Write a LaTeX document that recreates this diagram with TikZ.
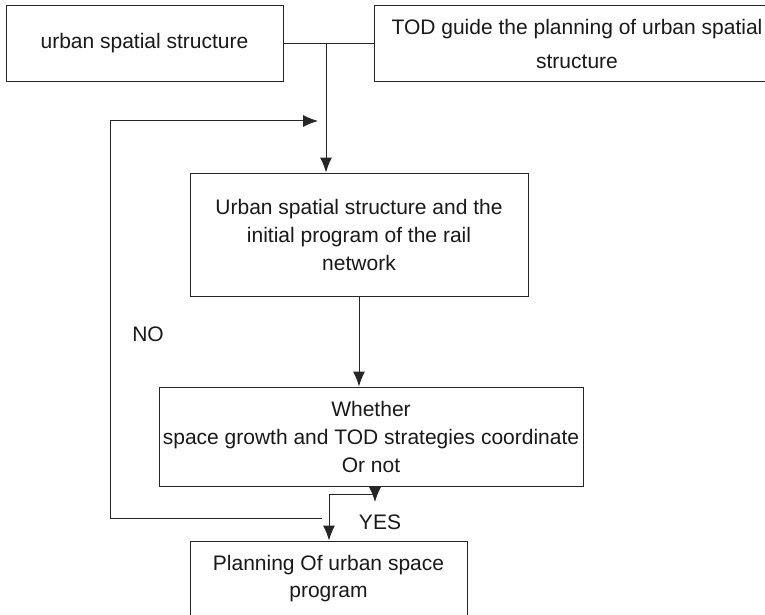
\documentclass[tikz,border=0pt]{standalone}
\usepackage{fontspec}
\setmainfont{Liberation Sans}
\usepackage{tikz}
\usetikzlibrary{arrows.meta,calc,positioning}
\tikzset{%
  arrow/.style={line width=1pt,-{Latex[length=15pt,width=12pt]}},
  block/.style={rectangle,draw=black!85,line width=1pt,align=center,
    text=black!90,font=\fontsize{21}{28}\selectfont,inner sep=0pt},
  tag/.style={text=black!90,font=\fontsize{21}{28}\selectfont},
}

\begin{document}
\begin{tikzpicture}[x=1pt,y=-1pt]
    \useasboundingbox (0,0) rectangle (765,615);
    \clip (0,0) rectangle (765,615);

    \node[block,minimum width=277,minimum height=76] (spatial) at (144.5,43.5)
      {urban spatial structure};
    \node[block,minimum width=406,minimum height=76,
      font=\fontsize{21}{34}\selectfont] (todguide) at (577,43.5)
      {TOD guide the planning of urban spatial\\structure};
    \node[block,minimum width=338,minimum height=123] (initial) at (359,234.5)
      {Urban spatial structure and the\\initial program of the rail\\network};
    \node[block,minimum width=424,minimum height=99] (whether) at (371,436.5)
      {Whether\\space growth and TOD strategies coordinate\\Or not};
    \node[block,minimum width=277,minimum height=75,
      font=\fontsize{21}{27}\selectfont] (planning) at (328.5,578.5)
      {Planning Of urban space\\program};

    \coordinate (join) at (326,44);
    \coordinate (loopleft) at (110,121);
    \coordinate (loopin) at (318,121);
    \coordinate (noturn) at (322,518);
    \coordinate (yesout) at (375,486);
    \coordinate (yestip) at (375,502);
    \coordinate (yesbend) at (375,494);
    \coordinate (yesleft) at (329,494);

    \draw[line width=1pt,black!85] (spatial.east) -- (todguide.west);
    \draw[arrow,black!85] (join) -- (join |- initial.north);
    \draw[arrow,black!85] (initial.south) -- (initial.south |- whether.north);

    % loop back when the answer is no
    \draw[arrow,black!85] (noturn) -| (loopleft) -- (loopin);
    \node[tag] (no) at (148,334) {NO};

    % yes branch
    \draw[arrow,black!85] (yesout) -- (yestip);
    \draw[arrow,black!85] (yesbend) -- (yesleft) -- (yesleft |- planning.north);
    \node[tag] (yes) at (380,522) {YES};
\end{tikzpicture}
\end{document}
